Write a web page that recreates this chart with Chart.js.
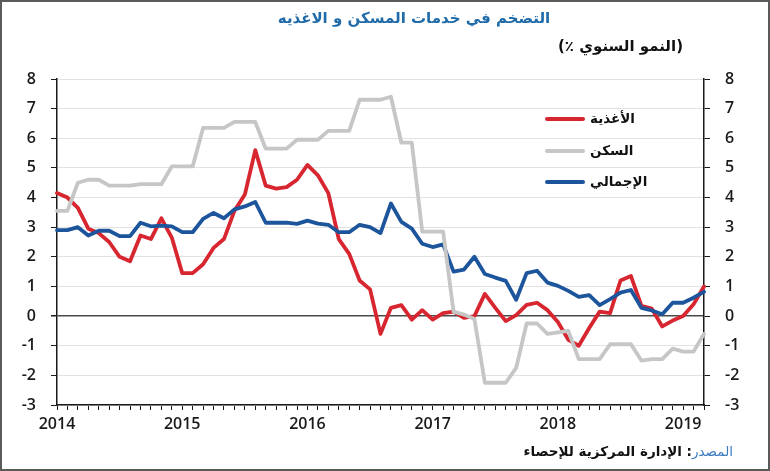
<!DOCTYPE html>
<html>
<head>
<meta charset="utf-8">
<script src="https://cdn.jsdelivr.net/npm/chart.js@4.4.1/dist/chart.umd.min.js"></script>
<style>
  body { margin: 0; background: #fff; }
  #wrap { position: relative; width: 770px; height: 471px; overflow: hidden; }
  #chart { position: absolute; left: 0; top: 0; }
  #frame { position: absolute; left: 0; top: 0; width: 770px; height: 471px; border: 2px solid #5a5a5a; box-sizing: border-box; pointer-events: none; }
  .txt { position: absolute; font-family: 'DejaVu Sans', sans-serif; white-space: nowrap; }
  #title { top: 9px; left: 414px; transform: translateX(-50%); color: #1f6aa8; font-size: 15px; font-weight: bold; }
  #subtitle { top: 37px; right: 87px; color: #111; font-size: 15px; font-weight: bold; }
  #source { top: 443px; right: 37px; color: #111; font-size: 13.5px; font-weight: bold; }
  #source span { color: #3b7bbf; font-weight: normal; }
  .leg-line { position: absolute; height: 4px; width: 40px; left: 545px; border-radius: 2px; }
  .leg-text { position: absolute; left: 590px; font-family: 'DejaVu Sans', sans-serif; font-size: 13.5px; font-weight: bold; color: #111; }
</style>
</head>
<body>
<div id="wrap">
  <canvas id="chart" width="770" height="471"></canvas>
  <div id="frame"></div>
  <div id="title" class="txt" dir="rtl">التضخم في خدمات المسكن و الاغذيه</div>
  <div id="subtitle" class="txt" dir="ltr">(٪ النمو السنوي)</div>
  <div id="legend"></div>
  <div id="source" class="txt" dir="rtl"><span>المصدر</span>: الإدارة المركزية للإحصاء</div>
</div>
<script>
'use strict';

const yearLabels = ['2014', '2015', '2016', '2017', '2018', '2019'];
const monthsInLastYear = 3;

const seriesNames = ['الأغذية', 'السكن', 'الإجمالي'];
const seriesColors = ['#d7262f', '#c6c6c6', '#1c559c'];

// Jan 2014 - Mar 2019, annual % change
const foodValues = [
  4.15, 4.0, 3.65, 2.95, 2.8, 2.5, 2.0, 1.85, 2.72, 2.6, 3.3, 2.65,
  1.45, 1.45, 1.75, 2.3, 2.6, 3.55, 4.1, 5.6, 4.4, 4.3, 4.35, 4.6,
  5.1, 4.75, 4.15, 2.6, 2.1, 1.2, 0.9, -0.6, 0.28, 0.37, -0.12, 0.2,
  -0.12, 0.1, 0.15, -0.06, 0.0, 0.75, 0.28, -0.17, 0.03, 0.38, 0.45, 0.2,
  -0.2, -0.8, -1.0, -0.4, 0.15, 0.1, 1.2, 1.35, 0.35, 0.25, -0.35, -0.15,
  0.0, 0.4, 1.0
];
const housingValues = [
  3.55, 3.55, 4.5, 4.6, 4.6, 4.4, 4.4, 4.4, 4.45, 4.45, 4.45, 5.05,
  5.05, 5.05, 6.35, 6.35, 6.35, 6.55, 6.55, 6.55, 5.65, 5.65, 5.65, 5.95,
  5.95, 5.95, 6.25, 6.25, 6.25, 7.3, 7.3, 7.3, 7.4, 5.85, 5.85, 2.85,
  2.85, 2.85, 0.15, 0.05, -0.1, -2.25, -2.25, -2.25, -1.75, -0.25, -0.25, -0.6,
  -0.55, -0.5, -1.45, -1.45, -1.45, -0.95, -0.95, -0.95, -1.5, -1.45, -1.45, -1.1,
  -1.2, -1.2, -0.6
];
const totalValues = [
  2.9, 2.9, 3.0, 2.72, 2.88, 2.88, 2.7, 2.7, 3.15, 3.03, 3.05, 3.03,
  2.83, 2.83, 3.28, 3.48, 3.3, 3.6, 3.7, 3.85, 3.15, 3.15, 3.15, 3.11,
  3.22, 3.12, 3.08, 2.83, 2.83, 3.08, 3.0, 2.8, 3.8, 3.18, 2.95, 2.44,
  2.33, 2.42, 1.5, 1.57, 2.0, 1.42, 1.3, 1.19, 0.55, 1.45, 1.53, 1.13,
  1.02, 0.85, 0.65, 0.71, 0.37, 0.57, 0.79, 0.88, 0.28, 0.19, 0.06, 0.45,
  0.45, 0.62, 0.82
];

const monthLabels = [];
yearLabels.forEach((year, yearIndex) => {
  const months = yearIndex === yearLabels.length - 1 ? monthsInLastYear : 12;
  for (let m = 1; m <= months; m++) {
    monthLabels.push(year + '-' + m);
  }
});

const tickFont = { family: "'Open Sans', sans-serif", size: 16, weight: '600' };
const axisColor = '#1a1a1a';

const yTicks = {
  stepSize: 1,
  padding: 15,
  color: axisColor,
  font: tickFont,
};

const chartContext = document.querySelector('#chart').getContext('2d');

const chartConfig = {
  type: 'line',
  data: {
    labels: monthLabels,
    datasets: [
      { label: seriesNames[1], data: housingValues, borderColor: seriesColors[1] },
      { label: seriesNames[2], data: totalValues, borderColor: seriesColors[2] },
      { label: seriesNames[0], data: foodValues, borderColor: seriesColors[0] },
    ]
  },
  options: {
    responsive: false,
    animation: false,
    layout: { padding: { top: 79, left: 0, right: 0, bottom: 0 } },
    elements: {
      point: { radius: 0 },
      line: { tension: 0, borderWidth: 3.8, borderJoinStyle: 'round', borderCapStyle: 'round' },
    },
    plugins: {
      legend: { display: false },
      tooltip: { enabled: false },
    },
    scales: {
      x: {
        offset: false,
        grid: { drawOnChartArea: false, tickLength: 5, tickColor: axisColor, tickWidth: 1 },
        border: { color: axisColor, width: 1.5 },
        ticks: {
          autoSkip: false,
          maxRotation: 0,
          padding: 5,
          color: axisColor,
          font: tickFont,
          callback: (value, index) => (index % 12 === 0 ? yearLabels[index / 12] : ''),
        },
        afterFit: (scale) => { scale.height = 66; },
      },
      y: {
        position: 'left',
        min: -3,
        max: 8,
        ticks: yTicks,
        grid: {
          color: (ctx) => (ctx.tick && ctx.tick.value === 0 ? '#4a4a4a' : '#e2e2e2'),
          lineWidth: (ctx) => (ctx.tick && ctx.tick.value === 0 ? 1.5 : 1),
          tickColor: axisColor,
          tickLength: 6,
        },
        border: { color: axisColor, width: 1.5 },
        afterFit: (scale) => { scale.width = 57; },
      },
      y2: {
        position: 'right',
        min: -3,
        max: 8,
        ticks: yTicks,
        grid: { drawOnChartArea: false, tickColor: axisColor, tickLength: 6 },
        border: { color: axisColor, width: 1.5 },
        afterFit: (scale) => { scale.width = 66; },
      },
    }
  },
};

const chart = new Chart(chartContext, chartConfig);

// legend inside the plot, line on the left of the label
const legendBox = document.querySelector('#legend');
const legendTops = [110, 142, 173];
seriesNames.forEach((name, i) => {
  const line = document.createElement('div');
  line.className = 'leg-line';
  line.style.top = (legendTops[i] + 7) + 'px';
  line.style.background = seriesColors[i];
  legendBox.appendChild(line);

  const text = document.createElement('div');
  text.className = 'leg-text';
  text.style.top = legendTops[i] + 'px';
  text.textContent = name;
  legendBox.appendChild(text);
});
</script>
</body>
</html>
